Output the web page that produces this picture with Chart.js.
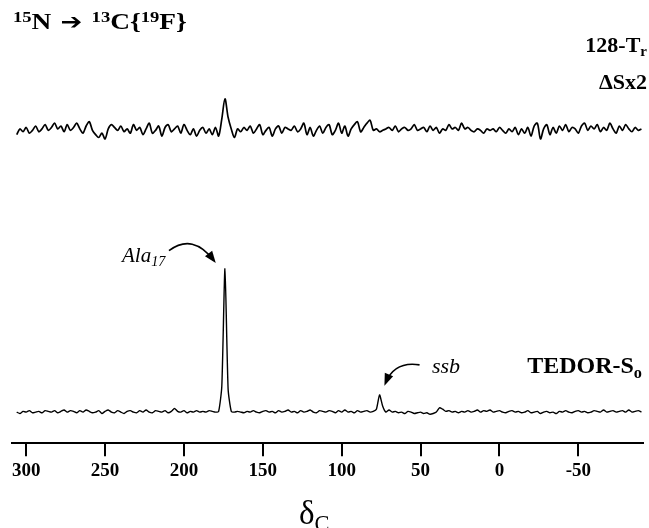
<!DOCTYPE html>
<html>
<head>
<meta charset="utf-8">
<script src="https://cdn.jsdelivr.net/npm/chart.js@4"></script>
<style>
  body { margin: 0; background: #fff; }
  #wrap { position: relative; width: 649px; height: 528px; overflow: hidden; }
  .lbl { position: absolute; font-family: "Liberation Serif", "Times New Roman", serif; color: #000; line-height: 1; white-space: nowrap; }
  .b { font-weight: bold; }
  sup { font-size: 0.68em; vertical-align: 0.42em; }
  sub { font-size: 0.68em; vertical-align: -0.3em; }
  .fl { font-family: "DejaVu Sans", sans-serif; font-size: 0.95em; margin: 0 2px; }
</style>
</head>
<body>
<div id="wrap">
  <canvas id="spectre"></canvas>
  <div class="lbl b" style="left:13px; top:9px; font-size:23px; transform:scaleX(1.19); transform-origin:left;"><sup>15</sup>N <span class="fl">&#x2794;</span> <sup>13</sup>C{<sup>19</sup>F}</div>
  <div class="lbl b" style="right:2px; top:34px; font-size:22px;">128-T<sub>r</sub></div>
  <div class="lbl b" style="right:2px; top:71px; font-size:22px;">&Delta;Sx2</div>
  <div class="lbl b" style="right:7px; top:353px; font-size:24px;">TEDOR-S<sub>o</sub></div>
  <div class="lbl" style="left:122px; top:245px; font-size:21px; font-style:italic;">Ala<sub>17</sub></div>
  <div class="lbl" style="left:432px; top:355px; font-size:22px; font-style:italic;">ssb</div>
  <div class="lbl" style="left:299px; top:497px; font-size:33px;">&delta;<sub>C</sub></div>
</div>
<script>
// Spectres RMN 13C : déplacement chimique (ppm), pas de 2 ppm de 306 à -90
const ppmDebut = 306;
const ppmPas = 2;
const graduations = [300, 250, 200, 150, 100, 50, 0, -50];

// Trace du haut : 128-Tr, différence ΔS x2
const traceDelta = [
  -3, 1, -1, 2, -2, 0, 3, -1, 1, 4,
  0, 2, 5, 1, 3, -1, 4, 0, 2, 5,
  1, -2, 3, 6, 0, -3, -5, -2, -6, 1,
  4, 2, 0, 3, -1, 1, -2, 4, 0, 2,
  -3, 1, 5, -2, 0, 3, -4, 2, 4, -1,
  1, 3, -2, 4, 0, -3, 1, -4, 0, 2,
  -2, 1, -3, 2, -4, 8, 22, 9, 1, -5,
  1, -1, 2, 0, 3, -2, 1, 4, -3, 0,
  2, -4, 1, 3, -2, 2, 1, 0, 3, -1,
  1, 5, -3, 2, -4, 0, 3, -2, 2, 4,
  -3, 0, 5, -2, 3, -4, 1, 4, 6, -1,
  2, 5, 7, 0, 1, -1, 0, 1, 2, 0,
  3, -1, 1, 2, 0, 1, 4, 0, 1, 2,
  -1, 3, 0, 2, -2, 1, 0, 4, 1, 2,
  0, 5, 1, 2, 0, -1, 1, 0, -2, 1,
  0, 1, -1, 2, 0, -2, 1, -1, 2, -3,
  1, -2, 2, -4, 3, 5, -6, 1, 4, -3,
  2, -2, 3, 0, 4, -1, 2, 1, -2, 3,
  5, 0, 3, 1, 4, -1, 2, 0, 5, 1,
  -2, 3, 0, 4, 1, -1, 2, 0, 1
];

// Trace du bas : TEDOR-So (Ala17 à 174 ppm, ssb vers 76 ppm)
const traceS0 = [
  0, -1, 0.5, 0, 1, -0.5, 0, 0.5, -0.5, 1,
  0.5, 0, 1, -0.5, 0.5, 1.5, 0, 1, 0.5, -0.5,
  1, 0, 1.5, 0.5, -0.5, 0, 1, -1, 0.5, 1.5,
  0, -0.5, 1, 0, -1, 0.5, 1, 0, -0.5, 1,
  0, 1.5, 0, -0.5, 1, 0.5, 0, 1, -0.5, 0.5,
  2.5, 0.5, 0, 1, -0.5, 0.5, 0, 1, 0, 0.5,
  0, 1, 0.5, 0, 0.5, 18, 100, 16, 0.5, 0,
  0.5, 0, -0.5, 0.5, 0, 1, 0, -0.5, 0.5, 1,
  0, 0.5, -0.5, 1, 0, 0.5, 1.5, 0, 0.5, -0.5,
  1, 0, 0.5, 1.5, 0, -0.5, 1, 0.5, 0, 1,
  0.5, -0.5, 1, 0, 1.5, 0, 0.5, -0.5, 1, 0,
  0.5, 1, 0, 0.5, 2, 12, 4, 0, 1.5, 0,
  0.5, -0.5, 0, -1, 0.5, 0, -1, -0.5, 0, -1,
  -0.5, -1.5, -1, 0, 3, 2, 0.5, 1, 0, 0.5,
  -0.5, 0.5, 0, 1, 0, 0.5, 1.5, 0, 1, 0.5,
  1.5, 0, 0.5, 1, 0, -0.5, 0.5, 1, 0, 0.5,
  -0.5, 0, 1, -0.5, 0, 0.5, -1, 0, 0.5, -0.5,
  0, -1, 0.5, 0, 1, 0, -0.5, 0.5, 1, 0,
  0.5, -0.5, 0, 1, 0.5, 0, 1.5, 0, 0.5, 1,
  0, 0.5, 1, 0, 1.5, 0, 0.5, 1, 0
];

const pics = { ala: 174, ssb: 76 };

function versPoints(valeurs) {
  return valeurs.map((v, i) => ({ x: ppmDebut - i * ppmPas, y: v }));
}

// flèches courbes des annotations (ancrées sur les pics)
function fleche(ctx, x0, y0, cx, cy, x1, y1) {
  ctx.beginPath();
  ctx.moveTo(x0, y0);
  ctx.quadraticCurveTo(cx, cy, x1, y1);
  ctx.stroke();
  const ang = Math.atan2(y1 - cy, x1 - cx);
  ctx.beginPath();
  ctx.moveTo(x1 + 3 * Math.cos(ang), y1 + 3 * Math.sin(ang));
  ctx.lineTo(x1 - 9 * Math.cos(ang) + 4.5 * Math.sin(ang), y1 - 9 * Math.sin(ang) - 4.5 * Math.cos(ang));
  ctx.lineTo(x1 - 9 * Math.cos(ang) - 4.5 * Math.sin(ang), y1 - 9 * Math.sin(ang) + 4.5 * Math.cos(ang));
  ctx.closePath();
  ctx.fill();
}

const pluginFleches = {
  id: 'fleches',
  afterDraw(chart) {
    const ctx = chart.ctx;
    const xs = chart.scales.x, ys = chart.scales.y;
    ctx.save();
    ctx.strokeStyle = '#000';
    ctx.fillStyle = '#000';
    ctx.lineWidth = 1.6;
    const xa = xs.getPixelForValue(pics.ala), ya = ys.getPixelForValue(100);
    fleche(ctx, xa - 56, ya - 18, xa - 32, ya - 36, xa - 11, ya - 8);
    const xb = xs.getPixelForValue(pics.ssb), yb = ys.getPixelForValue(12);
    fleche(ctx, xb + 40, yb - 30, xb + 15, yb - 34, xb + 6, yb - 12);
    ctx.restore();
  }
};

const ctx = document.getElementById('spectre').getContext('2d');
new Chart(ctx, {
  type: 'line',
  data: {
    datasets: [
      {
        label: 'ΔSx2',
        data: versPoints(traceDelta),
        borderColor: '#000',
        borderWidth: 1.7,
        pointRadius: 0,
        tension: 0.3,
        yAxisID: 'yHaut'
      },
      {
        label: 'TEDOR-So',
        data: versPoints(traceS0),
        borderColor: '#000',
        borderWidth: 1.4,
        pointRadius: 0,
        tension: 0.2,
        yAxisID: 'y'
      }
    ]
  },
  options: {
    responsive: true,
    maintainAspectRatio: false,
    animation: false,
    layout: { padding: { left: 12, right: 6, top: 0, bottom: 43 } },
    plugins: { legend: { display: false }, tooltip: { enabled: false } },
    scales: {
      x: {
        type: 'linear',
        reverse: true,
        min: -91,
        max: 309,
        afterBuildTicks: scale => { scale.ticks = graduations.map(v => ({ value: v })); },
        border: { color: '#000', width: 2 },
        grid: { drawOnChartArea: false, color: '#000', lineWidth: 2, tickLength: 13 },
        ticks: {
          color: '#000',
          padding: 3,
          maxRotation: 0,
          font: { family: 'Liberation Serif', size: 19, weight: 'bold' }
        }
      },
      y: { display: false, min: -21.7, max: 287.4 },
      yHaut: { display: false, min: -218.2, max: 90.9 }
    }
  },
  plugins: [pluginFleches]
});
</script>
</body>
</html>
